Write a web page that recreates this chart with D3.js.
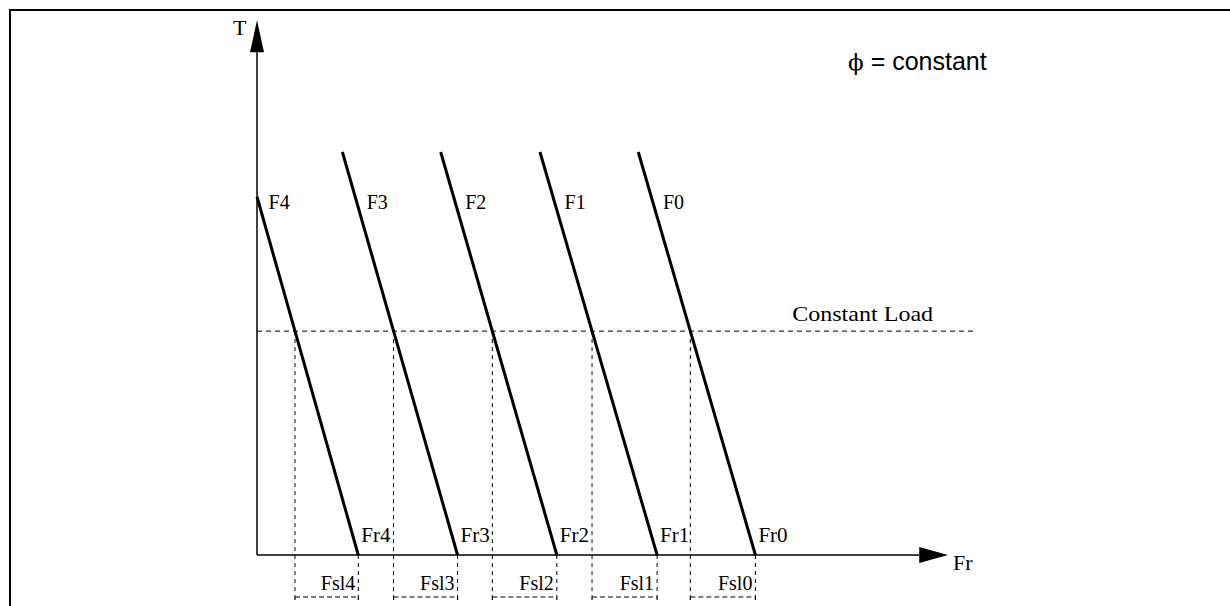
<!DOCTYPE html>
<html><head><meta charset="utf-8">
<script src="https://cdn.jsdelivr.net/npm/d3@7"></script>
<style>body{margin:0;background:#fff}svg{display:block}</style>
</head><body>
<script>
// Data
const curveNames = ["F0","F1","F2","F3","F4"];
const rotorLabels = ["Fr0","Fr1","Fr2","Fr3","Fr4"];
const slipLabels = ["Fsl0","Fsl1","Fsl2","Fsl3","Fsl4"];
const rotorFreq = [5.02, 4.03, 3.02, 2.02, 1.02];   // frequency at T = 0
const topFreq = [3.84, 2.85, 1.85, 0.86, 0.00];     // frequency at upper end
const topTorque = [9, 9, 9, 9, 8];                  // torque at upper end
const loadTorque = 5;
const loadLabel = "Constant Load";
const axisLabels = { x: "Fr", y: "T" };
const noteText = "= constant";

const W = 1230, H = 606;
const svg = d3.select("body").append("svg").attr("width", W).attr("height", H);

const x = d3.scaleLinear().domain([0, 7]).range([257, 952]);
const y = d3.scaleLinear().domain([0, 9]).range([555, 152]);

const serif = "'Liberation Serif','Times New Roman',serif";

// frame
svg.append("rect").attr("x", 10).attr("y", 10).attr("width", 1300).attr("height", 700)
  .attr("fill", "none").attr("stroke", "#000").attr("stroke-width", 2);

// axes
const yTop = 11.94, yArrowBase = 11.23;
const xTip = 6.96, xArrowBase = 6.67;
svg.append("line").attr("x1", x(0)).attr("y1", y(0)).attr("x2", x(0)).attr("y2", y(yArrowBase))
  .attr("stroke", "#000").attr("stroke-width", 1.5);
svg.append("line").attr("x1", x(0)).attr("y1", y(0)).attr("x2", x(xArrowBase)).attr("y2", y(0))
  .attr("stroke", "#000").attr("stroke-width", 1.5);
svg.append("path")
  .attr("d", `M${x(0)},${y(yTop)} L${x(0)+7},${y(yArrowBase)} L${x(0)-7},${y(yArrowBase)} Z`)
  .attr("fill", "#000");
svg.append("path")
  .attr("d", `M${x(xTip)},${y(0)} L${x(xArrowBase)},${y(0)-8} L${x(xArrowBase)},${y(0)+8} Z`)
  .attr("fill", "#000");

svg.append("text").attr("x", x(0) - 24).attr("y", 35).text(axisLabels.y)
  .attr("font-family", serif).attr("font-size", 22);
svg.append("text").attr("x", x(xTip) + 5).attr("y", y(0) + 15).text(axisLabels.x)
  .attr("font-family", serif).attr("font-size", 22);

// constant load
svg.append("line").attr("x1", x(0)).attr("x2", x(7.22)).attr("y1", y(loadTorque)).attr("y2", y(loadTorque))
  .attr("stroke", "#000").attr("stroke-width", 1).attr("stroke-dasharray", "5,4");
svg.append("text").attr("x", x(5.39)).attr("y", y(loadTorque) - 10).text(loadLabel)
  .attr("font-family", serif).attr("font-size", 22)
  .attr("textLength", 141).attr("lengthAdjust", "spacingAndGlyphs");

// curves
const curves = curveNames.map((n, i) => {
  const fr = rotorFreq[i], ft = topFreq[i], tt = topTorque[i];
  const atT = t => fr - (fr - ft) * t / tt;
  return { name: n, fr, ft, tt, atT, cross: atT(loadTorque), rl: rotorLabels[i], sl: slipLabels[i] };
});

const bottomY = 597;
curves.forEach(c => {
  svg.append("line").attr("x1", x(c.ft)).attr("y1", y(c.tt)).attr("x2", x(c.fr)).attr("y2", y(0))
    .attr("stroke", "#000").attr("stroke-width", 3);
  // dashed verticals
  svg.append("line").attr("x1", x(c.cross)).attr("x2", x(c.cross)).attr("y1", y(loadTorque)).attr("y2", bottomY)
    .attr("stroke", "#000").attr("stroke-width", 1).attr("stroke-dasharray", "4,4");
  svg.append("line").attr("x1", x(c.fr)).attr("x2", x(c.fr)).attr("y1", y(0)).attr("y2", bottomY)
    .attr("stroke", "#000").attr("stroke-width", 1).attr("stroke-dasharray", "4,4");
  svg.append("line").attr("x1", x(c.cross)).attr("x2", x(c.fr)).attr("y1", bottomY).attr("y2", bottomY)
    .attr("stroke", "#000").attr("stroke-width", 1.2).attr("stroke-dasharray", "5,3");
  [c.cross, c.fr].forEach(v => {
    svg.append("line").attr("x1", x(v)).attr("x2", x(v)).attr("y1", bottomY).attr("y2", bottomY + 3)
      .attr("stroke", "#000").attr("stroke-width", 1.2);
  });
  // labels
  const lt = 7.8;
  svg.append("text").attr("x", x(c.atT(lt)) + 9).attr("y", y(lt) + 3).text(c.name)
    .attr("font-family", serif).attr("font-size", 20);
  svg.append("text").attr("x", x(c.fr) + 3).attr("y", y(0) - 13).text(c.rl)
    .attr("font-family", serif).attr("font-size", 21);
  svg.append("text").attr("x", x(c.fr) - 3).attr("y", 590).attr("text-anchor", "end").text(c.sl)
    .attr("font-family", serif).attr("font-size", 20);
});

// note
const note = svg.append("text").attr("x", 848).attr("y", 70)
  .attr("font-family", "'Liberation Sans',Arial,sans-serif").attr("font-size", 25);
note.append("tspan").attr("font-family", "'DejaVu Serif',serif").attr("font-size", 23).text("\u03D5");
note.append("tspan").text(" " + noteText);
</script>
</body></html>
